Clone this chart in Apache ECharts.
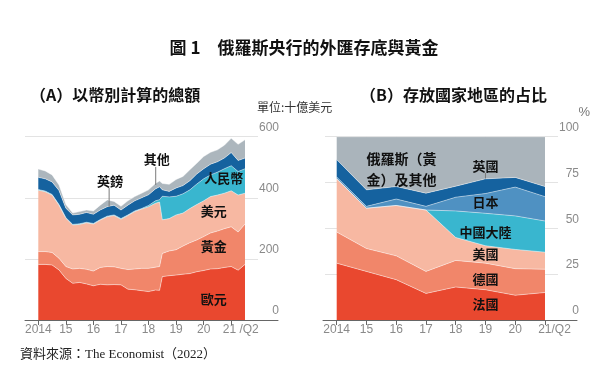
<!DOCTYPE html>
<html><head><meta charset="utf-8">
<script src="https://cdn.jsdelivr.net/npm/echarts@6/dist/echarts.min.js"></script>
<style>html,body{margin:0;padding:0;background:#fff}#c{width:608px;height:369px}</style>
</head><body><div id="c"></div>
<script>
// ---------- Panel A: reserves by currency, US$bn (stack layers) ----------
const quartersA = [2014, 2014.25, 2014.5, 2014.75, 2015, 2015.25, 2015.5, 2015.75, 2016, 2016.25, 2016.5, 2016.75,
  2017, 2017.25, 2017.5, 2017.75, 2018, 2018.25, 2018.4, 2018.5, 2018.75, 2019, 2019.25, 2019.5, 2019.75,
  2020, 2020.25, 2020.5, 2020.75, 2021, 2021.25, 2021.5];
const euroA  = [182,182,180,164,136,120,123,118,112,117,115,116,115,101,99,96,93,98,97,142,145,147,150,152,158,162,167,168,172,175,163,182];
const goldA  = [42,42,41,38,39,47,46,48,48,55,60,58,54,64,68,73,76,75,78,76,81,83,92,101,104,111,118,123,127,130,125,132];
const usdA   = [201,196,188,174,158,144,144,152,154,155,163,168,161,177,188,194,202,209,211,110,106,114,108,112,116,117,119,118,116,118,121,101];
const rmbA   = [2,2,2,2,2,2,2,2,2,2,2,2,2,2,2,2,4,8,8,77,71,61,63,61,67,72,71,75,80,82,77,80];
const gbpA   = [40,40,41,46,31,31,31,32,30,31,31,32,28,32,33,35,35,39,42,21,18,27,27,30,33,33,35,34,35,43,36,35];
const otherA = [27,26,23,18,12,6,9,8,11,16,22,12,12,14,14,15,16,18,19,21,23,28,30,36,35,40,39,39,42,47,53,60];
const yearTicksA = [2014, 2015, 2016, 2017, 2018, 2019, 2020, 2021];
const tickLabelsA = ['2014', '15', '16', '17', '18', '19', '20', '21 /Q2'];

// ---------- Panel B: share by country of deposit, % ----------
const yearsB   = ['2014', '2015', '2016', '2017', '2018', '2019', '2020', '2021Q2'];
const franceB  = [31, 26.5, 22, 14.5, 18, 16.5, 13.5, 15];
const germanyB = [17, 12.5, 13, 12, 14.5, 14.5, 14.5, 12.7];
const usB      = [29, 22, 27.5, 33.5, 12.5, 9.5, 10.5, 9.3];
const chinaB   = [0, 0, 0, 0, 14.5, 17.7, 18.3, 17];
const japanB   = [1, 1, 3.5, 2, 7.5, 10.8, 15.7, 13.3];
const ukB      = [9.5, 9, 6.8, 7.2, 6, 8, 5.3, 5.5];
const russiaB  = [12.5, 29, 27.2, 30.8, 27, 23, 22.2, 27.2];
const tickLabelsB = ['2014', '15', '16', '17', '18', '19', '20', '21/Q2'];

const chart = echarts.init(document.getElementById('c'), null, {renderer: 'canvas'});
const narrow = "'Liberation Sans Narrow','Liberation Sans',sans-serif";
const cjk = "'Noto Sans CJK TC','Noto Sans CJK SC',sans-serif";
const serif = "'Liberation Serif','Noto Sans CJK TC',serif";
const tickColor = '#8a8a8a';

function mkSeries(list, stack, xi, yi, xs) {
  return list.map(([n, d, c]) => {
    const s = {
      name: n, type: 'line', stack: stack, xAxisIndex: xi, yAxisIndex: yi,
      data: xs ? xs.map((x, i) => [d[i], x]) : d,
      symbol: 'none', silent: true, animation: false,
      areaStyle: {color: c, opacity: 1},
      lineStyle: {color: 'rgba(255,255,255,0.55)', width: 0.8},
      itemStyle: {color: c}
    };
    // value first so the library stacks along y, time position second
    if (xs) s.encode = {x: 1, y: 0};
    return s;
  });
}
const seriesA = mkSeries([
  ['歐元', euroA, '#e9482f'], ['黃金', goldA, '#f1866a'], ['美元', usdA, '#f7b8a2'],
  ['人民幣', rmbA, '#39b6cf'], ['英鎊', gbpA, '#15629f'], ['其他', otherA, '#acb6bd']
], 'A', 0, 0, quartersA);
const seriesB = mkSeries([
  ['法國', franceB, '#e9482f'], ['德國', germanyB, '#f1866a'], ['美國', usB, '#f7b8a2'],
  ['中國大陸', chinaB, '#39b6cf'], ['日本', japanB, '#4f91c2'], ['英國', ukB, '#15629f'],
  ['俄羅斯（黃金）及其他', russiaB, '#aab4bb']
], 'B', 3, 3, null);

const rich = {q: {color: tickColor, fontFamily: narrow, fontSize: 12, padding: [0, 0, 0, 19]}};
function lab(labels, i) {
  if (i < 0 || i >= labels.length) return '';
  return i === labels.length - 1 ? '{q|' + labels[i] + '}' : labels[i];
}
const axisLabelBase = {color: tickColor, fontFamily: narrow, fontSize: 12, margin: 4, rich: rich};
const tickStyle = {show: true, length: 5, lineStyle: {color: '#666', width: 1}};

const xA = {
  type: 'value', gridIndex: 0, min: quartersA[0], max: quartersA[quartersA.length - 1],
  axisLine: {show: false}, splitLine: {show: false},
  axisTick: Object.assign({customValues: yearTicksA}, tickStyle),
  axisLabel: Object.assign({}, axisLabelBase, {
    customValues: yearTicksA,
    formatter: v => lab(tickLabelsA, Math.round(v) - 2014)
  })
};
const xB = {
  type: 'category', gridIndex: 3, data: yearsB, boundaryGap: false,
  axisLine: {show: false}, splitLine: {show: false},
  axisTick: Object.assign({interval: 0}, tickStyle),
  axisLabel: Object.assign({}, axisLabelBase, {interval: 0, formatter: (v, i) => lab(tickLabelsB, i)})
};
const hiddenX = gi => ({type: 'value', gridIndex: gi, min: 0, max: 1, show: false});
const lineX = gi => ({type: 'value', gridIndex: gi, min: 0, max: 1,
  axisLine: {show: true, lineStyle: {color: '#666', width: 1}}, axisTick: {show: false},
  axisLabel: {show: false}, splitLine: {show: false}});
const hiddenY = (gi, max) => ({type: 'value', gridIndex: gi, min: 0, max: max, show: false});
const splitY = (gi, max, interval) => ({
  type: 'value', gridIndex: gi, min: 0, max: max, interval: interval, position: 'right',
  axisLine: {show: false}, axisTick: {show: false},
  splitLine: {show: true, lineStyle: {color: '#e3e3e3', width: 1}},
  axisLabel: {color: tickColor, fontFamily: narrow, fontSize: 12, align: 'right', verticalAlign: 'bottom', margin: 21, padding: [0, 0, 3, 0]}
});

const TOP = 136.7, H = 183.3;
chart.setOption({
  animation: false,
  grid: [
    {left: 38.3, top: TOP, width: 206.7, height: H},
    {left: 25, top: TOP, width: 233, height: H},
    {left: 25, top: TOP, width: 253, height: H},
    {left: 336.7, top: TOP, width: 208.3, height: H},
    {left: 325, top: TOP, width: 233, height: H},
    {left: 323, top: TOP, width: 254, height: H}
  ],
  xAxis: [xA, hiddenX(1), lineX(2), xB, hiddenX(4), lineX(5)],
  yAxis: [hiddenY(0, 600), splitY(1, 600, 200), hiddenY(2, 1), hiddenY(3, 100), splitY(4, 100, 25), hiddenY(5, 1)],
  series: seriesA.concat(seriesB)
});

// annotations placed in data coordinates (panel B x given as category index)
const notesA = [
  ['英鎊', 2016.6, 455], ['其他', 2018.3, 527], ['人民幣', 2020.73, 465],
  ['美元', 2020.37, 357], ['黃金', 2020.37, 242], ['歐元', 2020.37, 69]
];
const notesB = [
  ['英國', 5.22, 84], ['日本', 5.29, 64.4], ['中國大陸', 5.25, 48],
  ['美國', 5.22, 36], ['德國', 5.22, 22.4], ['法國', 5.22, 8.7]
];
const calloutsA = [[2016.57, 432, 370], [2018.26, 501, 442]];
const calloutsB = [[5.15, 80.2, 77.2]];

const g = [];
function txt(text, x, y, font, fill, align) {
  g.push({type: 'text', x: x, y: y, z: 100, silent: true,
    style: {text: text, font: font, fill: fill, align: align || 'left', verticalAlign: 'middle'}});
}
const lblFont = 'bold 13px ' + cjk;
notesA.forEach(([t, x, v]) => { const p = chart.convertToPixel({gridIndex: 0}, [x, v]); txt(t, p[0], p[1], lblFont, '#111', 'center'); });
notesB.forEach(([t, x, v]) => { const p = chart.convertToPixel({gridIndex: 3}, [x, v]); txt(t, p[0], p[1], lblFont, '#111', 'center'); });
{
  const p = chart.convertToPixel({gridIndex: 3}, [0.78, 87.8]);
  const p2 = chart.convertToPixel({gridIndex: 3}, [0.78, 76.4]);
  txt('俄羅斯（黃', p[0], p[1], 'bold 14px ' + cjk, '#111', 'left');
  txt('金）及其他', p2[0], p2[1], 'bold 14px ' + cjk, '#111', 'left');
}
function callout(gi, [x, v1, v2]) {
  const a = chart.convertToPixel({gridIndex: gi}, [x, v1]);
  const b = chart.convertToPixel({gridIndex: gi}, [x, v2]);
  g.push({type: 'line', silent: true, z: 100, shape: {x1: a[0], y1: a[1], x2: b[0], y2: b[1]}, style: {stroke: '#7a7a7a', lineWidth: 1}});
}
calloutsA.forEach(c => callout(0, c));
calloutsB.forEach(c => callout(3, c));

txt('圖 1　俄羅斯央行的外匯存底與黃金', 304, 48, 'bold 17px ' + cjk, '#111', 'center');
txt('（A）以幣別計算的總額', 30, 95, 'bold 16px ' + cjk, '#111', 'left');
txt('（B）存放國家地區的占比', 360, 95, 'bold 16px ' + cjk, '#111', 'left');
txt('單位:十億美元', 257, 107, '12px ' + cjk, '#333', 'left');
txt('%', 590, 112, '13px ' + narrow, '#777', 'right');
txt('資料來源：The Economist（2022）', 20, 355, '13px ' + serif, '#222', 'left');

chart.setOption({graphic: g});
</script>
</body></html>
